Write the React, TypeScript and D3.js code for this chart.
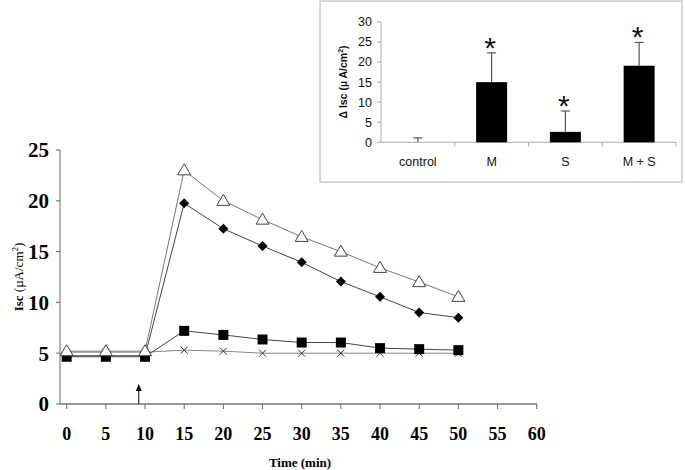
import React from "react";
import * as d3 from "d3";

const times = [0, 5, 10, 15, 20, 25, 30, 35, 40, 45, 50];
const triangleSeries = [5.2, 5.2, 5.2, 23.0, 20.0, 18.15, 16.45, 15.0, 13.4, 12.0, 10.55];
const diamondSeries = [4.75, 4.75, 4.75, 19.75, 17.25, 15.55, 13.95, 12.05, 10.55, 9.0, 8.5];
const squareSeries = [4.65, 4.65, 4.65, 7.2, 6.8, 6.35, 6.05, 6.05, 5.5, 5.4, 5.3];
const crossSeries = [5.1, 5.1, 5.1, 5.3, 5.2, 5.0, 5.0, 5.0, 5.0, 5.0, 5.0];
const xTicks = [0, 5, 10, 15, 20, 25, 30, 35, 40, 45, 50, 55, 60];
const yTicks = [0, 5, 10, 15, 20, 25];
const arrowTime = 9.2;

const insetCategories = ["control", "M", "S", "M + S"];
const insetValues = [0, 15.0, 2.6, 19.1];
const insetErrors = [1.1, 7.3, 5.2, 5.8];
const insetStars = [false, true, true, true];
const insetYTicks = [0, 5, 10, 15, 20, 25, 30];

export default function App() {
  const x = d3.scaleLinear().domain([0, 60]).range([66.7, 536.7]);
  const y = d3.scaleLinear().domain([0, 25]).range([404, 150]);
  const line = d3
    .line<number>()
    .x((_, i) => x(times[i]))
    .y((d) => y(d));

  const ix = d3.scaleBand().domain(insetCategories).range([381, 676]).paddingInner(0.58).paddingOuter(0.29);
  const iy = d3.scaleLinear().domain([0, 30]).range([142.3, 22]);
  const catStep = (676 - 381) / insetCategories.length;

  const serif = "'Liberation Serif', 'Times New Roman', serif";
  const sans = "'Liberation Sans', Arial, sans-serif";

  const tri = (cx: number, cy: number) => {
    const s = 6.5;
    return `M${cx},${cy - s} L${cx + s},${cy + s * 0.7} L${cx - s},${cy + s * 0.7} Z`;
  };
  const dia = (cx: number, cy: number) => {
    const s = 5;
    return `M${cx},${cy - s} L${cx + s},${cy} L${cx},${cy + s} L${cx - s},${cy} Z`;
  };

  return (
    <svg width={685} height={470} style={{ position: "absolute", left: 0, top: 0, background: "#fff" }}>
      <rect x={0} y={0} width={685} height={470} fill="#fff" />
      {/* Main axes */}
      <line x1={60} x2={60} y1={150} y2={404} stroke="#666" strokeWidth={1} />
      <line x1={60} x2={537} y1={404} y2={404} stroke="#777" strokeWidth={1.5} />
      {yTicks.map((t) => (
        <g key={"yt" + t}>
          <line x1={56} x2={60} y1={y(t)} y2={y(t)} stroke="#666" />
          <text x={49} y={y(t)} dy="0.35em" textAnchor="end" fontFamily={serif} fontWeight="bold" fontSize={21} fill="#000">
            {t}
          </text>
        </g>
      ))}
      {xTicks.map((t) => (
        <g key={"xt" + t}>
          <line x1={x(t)} x2={x(t)} y1={404} y2={409} stroke="#666" />
          <text x={x(t)} y={440} textAnchor="middle" fontFamily={serif} fontWeight="bold" fontSize={18} fill="#000">
            {t}
          </text>
        </g>
      ))}
      <text x={300} y={467} textAnchor="middle" fontFamily={serif} fontWeight="bold" fontSize={13} fill="#000">
        Time (min)
      </text>
      <text transform="translate(23,277) rotate(-90)" textAnchor="middle" fontFamily={serif} fontSize={13} fill="#000">
        <tspan fontWeight="bold">Isc</tspan>
        <tspan> (µA/cm</tspan>
        <tspan dy={-5} fontSize={9}>2</tspan>
        <tspan dy={5}>)</tspan>
      </text>

      {/* Arrow */}
      <line x1={x(arrowTime)} x2={x(arrowTime)} y1={404} y2={390} stroke="#000" strokeWidth={1} />
      <path d={`M${x(arrowTime)},${384} L${x(arrowTime) + 3},${391} L${x(arrowTime) - 3},${391} Z`} fill="#000" />

      {/* Lines */}
      <path d={line(crossSeries) || ""} fill="none" stroke="#888" strokeWidth={1} />
      <path d={line(squareSeries) || ""} fill="none" stroke="#444" strokeWidth={1} />
      <path d={line(diamondSeries) || ""} fill="none" stroke="#444" strokeWidth={1} />
      <path d={line(triangleSeries) || ""} fill="none" stroke="#777" strokeWidth={1} />

      {crossSeries.map((v, i) => (
        <g key={"c" + i} stroke="#333" strokeWidth={1}>
          <line x1={x(times[i]) - 3.5} x2={x(times[i]) + 3.5} y1={y(v) - 3.5} y2={y(v) + 3.5} />
          <line x1={x(times[i]) - 3.5} x2={x(times[i]) + 3.5} y1={y(v) + 3.5} y2={y(v) - 3.5} />
        </g>
      ))}
      {diamondSeries.map((v, i) => (
        <path key={"d" + i} d={dia(x(times[i]), y(v))} fill="#000" />
      ))}
      {squareSeries.map((v, i) => (
        <rect key={"s" + i} x={x(times[i]) - 5} y={y(v) - 5} width={10} height={10} fill="#000" />
      ))}
      {triangleSeries.map((v, i) => (
        <path key={"t" + i} d={tri(x(times[i]), y(v))} fill="#fff" stroke="#444" strokeWidth={1} />
      ))}

      {/* Inset */}
      <rect x={320} y={1} width={362} height={181} fill="#fff" stroke="#ccc" strokeWidth={1.5} />
      <line x1={381} x2={381} y1={iy(30)} y2={iy(0)} stroke="#aaa" />
      <line x1={381} x2={676} y1={iy(0)} y2={iy(0)} stroke="#aaa" />
      {insetYTicks.map((t) => (
        <g key={"iyt" + t}>
          <line x1={377} x2={381} y1={iy(t)} y2={iy(t)} stroke="#aaa" />
          <text x={372} y={iy(t)} dy="0.35em" textAnchor="end" fontFamily={sans} fontSize={12.5} fill="#111">
            {t}
          </text>
        </g>
      ))}
      {insetCategories.map((c, i) => (
        <g key={"ic" + c}>
          <line x1={381 + catStep * (i + 1)} x2={381 + catStep * (i + 1)} y1={iy(0)} y2={iy(0) + 4} stroke="#aaa" />
          <text x={(ix(c) as number) + ix.bandwidth() / 2} y={166} textAnchor="middle" fontFamily={sans} fontSize={12.5} fill="#111">
            {c}
          </text>
        </g>
      ))}
      {insetCategories.map((c, i) => {
        const cx = (ix(c) as number) + ix.bandwidth() / 2;
        const top = iy(insetValues[i] + insetErrors[i]);
        return (
          <g key={"ib" + c}>
            {insetValues[i] > 0 && (
              <rect x={ix(c) as number} y={iy(insetValues[i])} width={ix.bandwidth()} height={iy(0) - iy(insetValues[i])} fill="#000" />
            )}
            <line x1={cx} x2={cx} y1={iy(insetValues[i])} y2={top} stroke="#555" strokeWidth={1.2} />
            <line x1={cx - 4.5} x2={cx + 4.5} y1={top} y2={top} stroke="#555" strokeWidth={1.2} />
            {insetStars[i] && (
              <text x={cx - 1.5} y={top + 5} textAnchor="middle" fontFamily={sans} fontSize={30} fill="#111">
                *
              </text>
            )}
          </g>
        );
      })}
      <text transform="translate(347,82) rotate(-90)" textAnchor="middle" fontFamily={sans} fontWeight="bold" fontSize={10.5} fill="#111">
        <tspan>Δ Isc (µ A/cm</tspan>
        <tspan dy={-4} fontSize={7}>2</tspan>
        <tspan dy={4}>)</tspan>
      </text>
    </svg>
  );
}
